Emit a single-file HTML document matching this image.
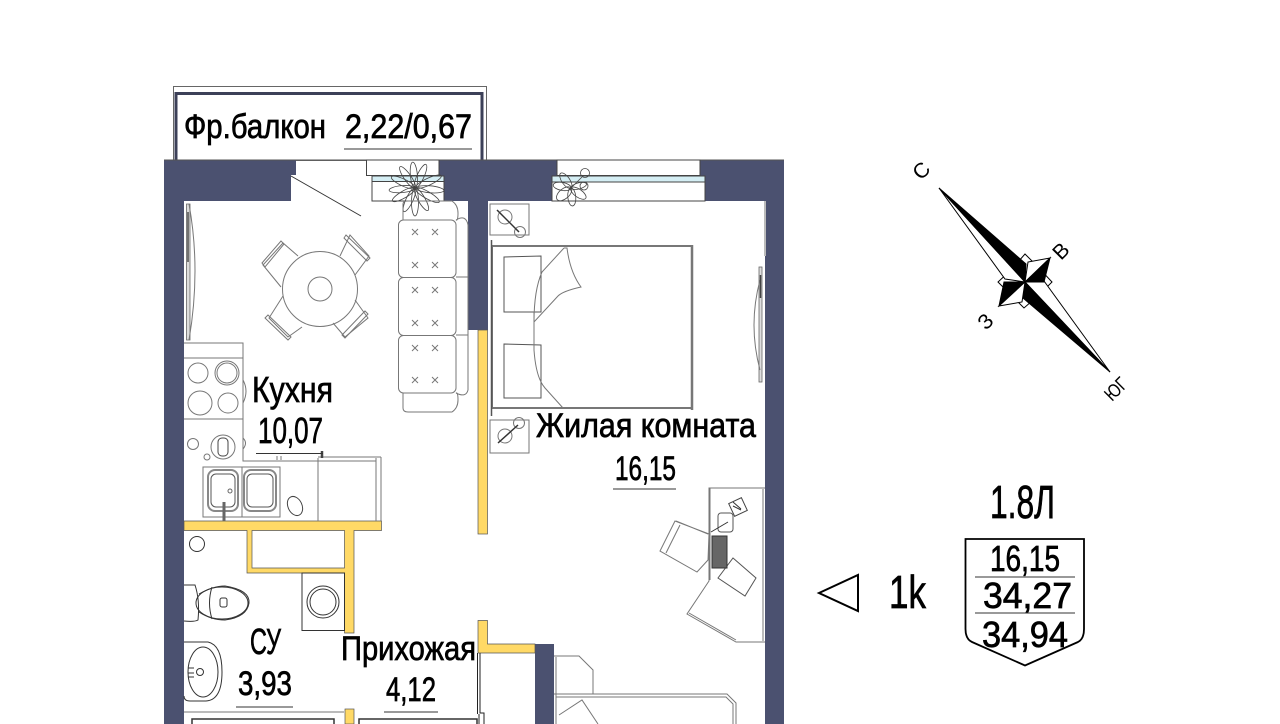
<!DOCTYPE html>
<html><head><meta charset="utf-8"><style>
html,body{margin:0;padding:0;background:#fff}
svg{display:block}
text{font-family:"Liberation Sans",sans-serif;fill:#000}
.l{fill:none;stroke:#777;stroke-width:1}
.d{fill:none;stroke:#333;stroke-width:1}
</style></head><body>
<svg width="1280" height="724" viewBox="0 0 1280 724" xmlns="http://www.w3.org/2000/svg">
<rect width="1280" height="724" fill="#fff"/>

<!-- balcony -->
<rect x="173.500" y="86.500" width="313" height="74" fill="#fff" stroke="#666"/>
<path d="M176 160V93.500H482V160" fill="none" stroke="#3c4058" stroke-width="3"/>

<!-- walls -->
<path d="M164 160H296V175H291V201H184V724H164Z" fill="#4b5170"/>
<path d="M439 160H557V176H552V201H488V330H468V201H444V176H439Z" fill="#4b5170"/>
<path d="M700 160H784V724H765V201H705V176H700Z" fill="#4b5170"/>
<rect x="535" y="644" width="19" height="80" fill="#4b5170"/>
<path d="M164 160H784" stroke="#555" fill="none"/>

<!-- yellow walls -->
<g fill="#ffd966" stroke="#555" stroke-width="0.7">
<rect x="478" y="330" width="9.500" height="204"/>
<path d="M478 620.500H487.500V644H535V653H478Z"/>
<path d="M184 521H381.500V530.500H354V633H344.500V573H247V530.500H184Z"/>
<rect x="345" y="709" width="9" height="15"/>
</g>
<path d="M252 530.500H344.500V568H252Z" fill="#fff" stroke="#555" stroke-width="0.7"/>

<!-- windows -->
<g stroke="#444" stroke-width="1">
<rect x="366.500" y="160" width="72.500" height="15.500" fill="#fff"/>
<rect x="372" y="176" width="72" height="25" fill="#fff"/>
<rect x="372" y="176" width="72" height="5.500" fill="#d4eef4"/>
<rect x="557" y="160" width="143" height="15.500" fill="#fff"/>
<rect x="552" y="176" width="153" height="25" fill="#fff"/>
<rect x="552" y="176" width="153" height="6" fill="#d4eef4"/>
</g>
<path d="M291 176L361 216" class="d"/>

<!-- plants -->
<g fill="none" stroke="#444" stroke-width="0.8">
<g transform="translate(415,188)">
<ellipse cx="15" cy="0" rx="14" ry="3.500" transform="rotate(5)"/>
<ellipse cx="15" cy="0" rx="14" ry="3.500" transform="rotate(-25)"/>
<ellipse cx="14" cy="0" rx="14" ry="3.500" transform="rotate(30)"/>
<ellipse cx="13" cy="0" rx="13" ry="3.500" transform="rotate(60)"/>
<ellipse cx="14" cy="0" rx="14" ry="3.500" transform="rotate(90)"/>
<ellipse cx="13" cy="0" rx="13" ry="3.500" transform="rotate(115)"/>
<ellipse cx="13" cy="0" rx="13" ry="3.500" transform="rotate(150)"/>
<ellipse cx="13" cy="0" rx="13" ry="3.500" transform="rotate(175)"/>
<ellipse cx="13" cy="0" rx="13" ry="3.500" transform="rotate(205)"/>
<ellipse cx="13" cy="0" rx="13" ry="3.500" transform="rotate(235)"/>
<ellipse cx="13" cy="0" rx="13" ry="3.500" transform="rotate(265)"/>
<ellipse cx="13" cy="0" rx="13" ry="3.500" transform="rotate(295)"/>
</g>
<g transform="translate(571,188)">
<ellipse cx="9" cy="0" rx="9" ry="4" transform="rotate(-125)"/>
<ellipse cx="9" cy="0" rx="9" ry="4" transform="rotate(-170)"/>
<ellipse cx="9" cy="0" rx="9" ry="5" transform="rotate(140)"/>
<ellipse cx="9" cy="0" rx="9" ry="4" transform="rotate(85)"/>
<ellipse cx="9" cy="0" rx="9" ry="4" transform="rotate(35)"/>
<ellipse cx="8" cy="0" rx="8" ry="3" transform="rotate(-15)"/>
<path d="M0 0L11-11"/>
<circle cx="14" cy="-15" r="4.500"/>
<circle cx="13" cy="-2" r="4"/>
</g>
</g>

<!-- left door -->
<path d="M186.500 204V340H190V204Z" fill="#ddd" stroke="#666" stroke-width="0.8"/>
<path d="M189 204Q201 270 189 340" class="l"/>
<path d="M188 212V262" stroke="#444" stroke-width="1.400"/>

<!-- table -->
<g class="l" stroke="#555">
<circle cx="320" cy="289" r="37.500"/>
<circle cx="320" cy="289" r="12"/>
<path d="M298 256L283 243L263 265L281 287"/>
<path d="M262 263L281 241L284 244L265 267Z"/>
<path d="M340 256L350 235L369 256L355 275"/>
<path d="M346 235L370 258L367 261L344 238Z"/>
<path d="M283 296L269 318L288 337L302 327"/>
<path d="M268 315L291 337L288 340L265 318Z"/>
<path d="M355 300L368 318L345 337L333 323"/>
<path d="M368 314L345 338L342 335L365 311Z"/>
</g>

<!-- sofa -->
<g class="l" stroke="#666">
<path d="M403 220V204Q403 201 408 201H452Q458 205 458 213T456 220"/>
<path d="M456 220Q466 214 468 225V390Q466 398 456 393"/>
<path d="M403 393V408Q403 412 408 412H452Q458 408 458 400T456 393"/>
<path d="M456 277H468M456 335H468"/>
<rect x="398.500" y="220" width="57.500" height="57.500" rx="5"/>
<rect x="398.500" y="277.500" width="57.500" height="58" rx="5"/>
<rect x="398.500" y="335.500" width="57.500" height="57.500" rx="5"/>
</g>
<g stroke="#777" stroke-width="1" fill="none">
<path d="M412 229l6 6m0-6l-6 6M432 229l6 6m0-6l-6 6M412 262l6 6m0-6l-6 6M432 262l6 6m0-6l-6 6M412 287l6 6m0-6l-6 6M432 287l6 6m0-6l-6 6M412 320l6 6m0-6l-6 6M432 320l6 6m0-6l-6 6M412 345l6 6m0-6l-6 6M432 345l6 6m0-6l-6 6M412 377l6 6m0-6l-6 6M432 377l6 6m0-6l-6 6"/>
</g>

<!-- kitchen -->
<g class="l" stroke="#777">
<path d="M184 343H243V461H318M243 358H184M243 419H184"/>
<circle cx="198" cy="373" r="10"/><circle cx="227" cy="373" r="12"/><circle cx="227" cy="373" r="10"/>
<circle cx="200" cy="403" r="12"/><circle cx="228" cy="403" r="10"/>
<path d="M243 380Q249 391 243 403M243 438Q248 443 243 449"/>
<circle cx="223" cy="447" r="12"/><circle cx="193" cy="444" r="5.500"/><circle cx="207" cy="457" r="3"/>
<rect x="218" y="438" width="10" height="18" rx="4" stroke="#444"/>
<rect x="203" y="467" width="77" height="50"/>
<path d="M242 467V517"/>
<rect x="208" y="470" width="30" height="41" rx="7" stroke="#888" stroke-width="2"/>
<rect x="211" y="474" width="24" height="33" rx="5" stroke="#555"/>
<rect x="244" y="470" width="32" height="41" rx="7" stroke="#888" stroke-width="2"/>
<rect x="247" y="474" width="26" height="33" rx="5" stroke="#555"/>
<path d="M318 458V521M376 458V521M381 457V521M318 457H381M318 461H376"/>
<path d="M277 460V456M281 460V456"/>
<ellipse cx="295" cy="506" rx="7" ry="10" transform="rotate(-25 295 506)" stroke="#444"/>
</g>
<path d="M224 521V502" stroke="#666" stroke-width="3"/>
<circle cx="230" cy="491" r="2" fill="none" stroke="#666"/>
<path d="M322 458V451" stroke="#444" stroke-width="2.500"/>

<!-- bathroom -->
<g class="d" stroke="#444">
<circle cx="197" cy="544" r="7.500"/>
<path d="M184 585H195Q200 600 198 620Q195 622 184 621"/>
<path d="M199 594Q213 586 225 586Q250 590 249 603Q247 617 225 620Q211 620 199 612"/>
<ellipse cx="222" cy="603" rx="26" ry="16" fill="none"/>
<path d="M212 587Q207 603 212 619"/>
<rect x="220" y="598" width="7" height="9" rx="2"/>
<rect x="302" y="573" width="42.500" height="57.500"/>
<circle cx="323" cy="602" r="16"/><circle cx="323" cy="602" r="13"/>
<path d="M184 642H208Q222 645 222 672Q222 700 206 701H190Q184 701 184 696"/>
<ellipse cx="203" cy="672" rx="15" ry="25"/>
<circle cx="200" cy="672" r="3.500"/>
<path d="M188 668H194M188 673H194M188 677H194"/>
<path d="M184 712H344" stroke="#777"/>
<path d="M192 724V719H334V724" stroke-width="1.500"/>
<path d="M359 724V719H477V724" stroke-width="1.500"/>
</g>

<!-- entry door -->
<path d="M477.500 653V714" fill="none" stroke="#222" stroke-width="1"/>
<path d="M480 653V713H484V724" fill="none" stroke="#222" stroke-width="1"/>
<path d="M479 714V724" fill="none" stroke="#222" stroke-width="1"/>

<!-- bedroom -->
<g class="l" stroke="#666">
<rect x="490" y="204" width="39" height="31"/>
<rect x="490" y="420" width="39" height="33"/>
<circle cx="505" cy="217" r="7"/><circle cx="520" cy="232" r="5.500"/>
<path d="M497 210L519 232" stroke="#333" stroke-width="1.500"/>
<circle cx="505" cy="436" r="7"/><circle cx="519" cy="423" r="5.500"/>
<path d="M498 443L518 425" stroke="#333" stroke-width="1.500"/>
<path d="M504 257L541 256V312H504ZM504 344L541 345V398H504Z" stroke="#555"/>
<path d="M564 248L567 248Q570 272 581 287Q563 291 558 296L534 322Q534 290 542 272L564 248"/>
<path d="M534 312V350Q536 378 545 388L563 408"/>
</g>
<rect x="492" y="246" width="200" height="162" fill="none" stroke="#777" stroke-width="2"/>
<path d="M491.500 240V416" stroke="#555" stroke-width="1.500"/>
<path d="M692 245V410" stroke="#777" stroke-width="2.500"/>
<path d="M765 201V256" stroke="#bbb" stroke-width="2"/>
<rect x="759" y="267" width="3" height="115" fill="#ddd" stroke="#666" stroke-width="0.8"/>
<path d="M760 280Q748 325 760 370" class="l"/>
<path d="M760.500 275V298" stroke="#444" stroke-width="1.500"/>

<!-- desk -->
<g class="l" stroke="#777">
<path d="M765 488H709V581L687 614L736 642H765"/>
<path d="M763 489V641M710 488V580M689 613L736 640"/>
<path d="M675 521L660 551L697 572L708 560L709 534ZM680 525L666 553M676 521L708 534"/>
<rect x="718" y="513" width="15" height="19" rx="3" stroke="#555"/>
<path d="M711 532L728 522" stroke="#333"/>
<rect x="731" y="500" width="14" height="14" transform="rotate(-25 738 507)" stroke="#444"/>
<path d="M733 502l8 7M733 506l8 4" stroke="#333"/>
<path d="M733 558L756 578L745 596L718 578Z" stroke="#555"/>
</g>
<rect x="712" y="536" width="15" height="32" fill="#666" stroke="#333"/>

<!-- lower bedroom -->
<g class="l" stroke="#777">
<path d="M554 656H579L593 670V694"/>
<path d="M556 657V724"/>
<path d="M554 694H727L736 703V724M556 697H726L733 704V724"/>
<path d="M559 715L582 700L598 724"/>
</g>

<!-- labels -->
<g stroke="#000" stroke-width="0.7">
<text x="184" y="138" font-size="34" textLength="142" lengthAdjust="spacingAndGlyphs">Фр.балкон</text>
<text x="345" y="138" font-size="34" textLength="127" lengthAdjust="spacingAndGlyphs">2,22/0,67</text>
<text x="252" y="402" font-size="36" textLength="81" lengthAdjust="spacingAndGlyphs">Кухня</text>
<text x="258" y="443" font-size="36" textLength="65" lengthAdjust="spacingAndGlyphs">10,07</text>
<text x="536" y="437" font-size="34" textLength="220" lengthAdjust="spacingAndGlyphs">Жилая комната</text>
<text x="615" y="480" font-size="34" textLength="61" lengthAdjust="spacingAndGlyphs">16,15</text>
<text x="250" y="654" font-size="36" textLength="31" lengthAdjust="spacingAndGlyphs">СУ</text>
<text x="238" y="695" font-size="34" textLength="54" lengthAdjust="spacingAndGlyphs">3,93</text>
<text x="341" y="660" font-size="34" textLength="135" lengthAdjust="spacingAndGlyphs">Прихожая</text>
<text x="386" y="701" font-size="34" textLength="50" lengthAdjust="spacingAndGlyphs">4,12</text>
<text x="990" y="518" font-size="46" textLength="65" lengthAdjust="spacingAndGlyphs">1.8Л</text>
<text x="990" y="571" font-size="36" textLength="70" lengthAdjust="spacingAndGlyphs">16,15</text>
<text x="983" y="608" font-size="36" textLength="89" lengthAdjust="spacingAndGlyphs">34,27</text>
<text x="982" y="647" font-size="36" textLength="86" lengthAdjust="spacingAndGlyphs">34,94</text>
<text x="889" y="608" font-size="46" textLength="37" lengthAdjust="spacingAndGlyphs">1k</text>
</g>
<g stroke="#333" stroke-width="1" fill="none">
<path d="M344 149H472M256 453.500H323M613 489H676M236 707H293M384 712H438"/>
</g>

<!-- legend -->
<path d="M819 593L858 575V611Z" fill="#fff" stroke="#000" stroke-width="2"/>
<path d="M965.500 539H1084V629Q1084 639 1078 642L1025 665.500L972 642Q965.500 639 965.500 629Z" fill="none" stroke="#000" stroke-width="1.800"/>
<path d="M975 577H1075M975 613H1075" stroke="#333" stroke-width="1" fill="none"/>

<!-- compass -->
<g stroke="#000" stroke-width="1">
<path d="M1025 254L1037 266L1052 282L1040 294L1024 308L1010 294L998 282L1011 270Z" fill="#fff"/>
<path d="M939 188L1005 279L1025 282Z" fill="#fff"/>
<path d="M939 188L1026 264L1025 282Z" fill="#000"/>
<path d="M1110 372L1044 281L1025 282Z" fill="#fff"/>
<path d="M1110 372L1023 298L1025 282Z" fill="#000"/>
<path d="M1050 258L1028 262L1025 282Z" fill="#fff"/>
<path d="M1050 258L1044 282L1025 282Z" fill="#000"/>
<path d="M999 306L1004 282L1025 282Z" fill="#000"/>
<path d="M999 306L1022 302L1025 282Z" fill="#fff"/>
</g>
<g font-size="21">
<text transform="translate(921,181) rotate(-45)">С</text>
<text transform="translate(1061,261) rotate(-45)">В</text>
<text transform="translate(986,331) rotate(-45)">З</text>
<text transform="translate(1112,402) rotate(-45)" font-size="19" textLength="24" lengthAdjust="spacingAndGlyphs">ЮГ</text>
</g>
</svg>
</body></html>
